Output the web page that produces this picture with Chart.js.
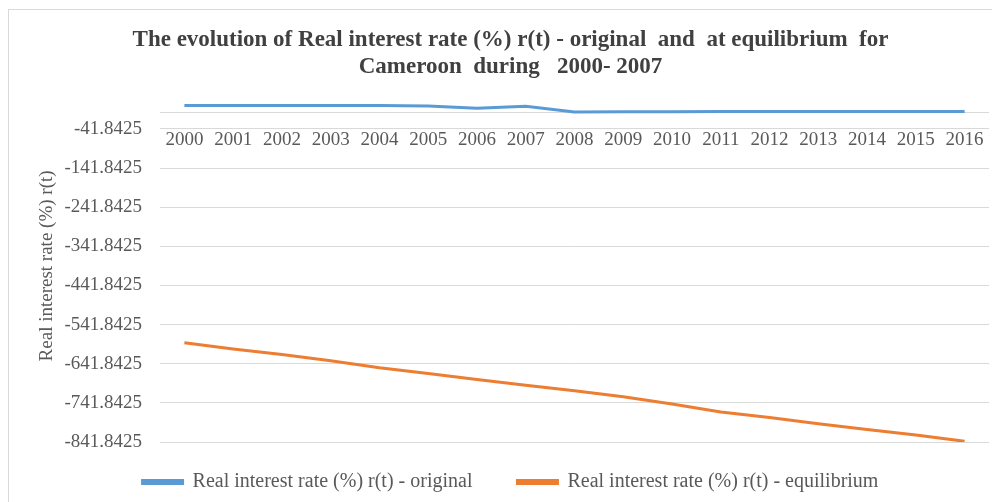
<!DOCTYPE html>
<html>
<head>
<meta charset="utf-8">
<script src="https://cdn.jsdelivr.net/npm/chart.js@4.4.1/dist/chart.umd.min.js"></script>
<style>
  html, body { margin: 0; padding: 0; background: #ffffff; }
  #wrap { width: 992px; height: 502px; position: relative; }
</style>
</head>
<body>
<div id="wrap"><canvas id="c" width="992" height="502"></canvas></div>
<script>
const years = ['2000','2001','2002','2003','2004','2005','2006','2007','2008','2009','2010','2011','2012','2013','2014','2015','2016'];
const originalRate = [18, 18, 18, 18, 18, 17, 11, 16, 1.5, 2, 2, 2.5, 2.5, 2.5, 2.5, 2.5, 2.5];
const equilibriumRate = [-588, -604, -618, -634, -652, -667, -682, -697, -711, -726, -745, -765, -779, -795, -810, -824, -840];
const yTickValues = [0, -41.8425, -141.8425, -241.8425, -341.8425, -441.8425, -541.8425, -641.8425, -741.8425, -841.8425];
const yTickLabels = ['', '-41.8425', '-141.8425', '-241.8425', '-341.8425', '-441.8425', '-541.8425', '-641.8425', '-741.8425', '-841.8425'];
const yMin = -841.8425;
const yMax = 58.1575;
const seriesNames = ['Real interest rate (%) r(t) - original', 'Real interest rate (%) r(t) - equilibrium'];
const titleLines = ['The evolution of Real interest rate (%) r(t) - original  and  at equilibrium  for', 'Cameroon  during   2000- 2007'];
const yTitle = 'Real interest rate (%) r(t)';

const SERIF = '"Liberation Serif", "Times New Roman", serif';
const TEXT = '#595959';

const borderPlugin = {
  id: 'frame',
  beforeDraw(chart) {
    const ctx = chart.ctx;
    ctx.save();
    ctx.fillStyle = '#ffffff';
    ctx.fillRect(0, 0, chart.width, chart.height);
    ctx.strokeStyle = '#d9d9d9';
    ctx.lineWidth = 1;
    ctx.strokeRect(8.5, 9.5, chart.width + 10, chart.height + 10);
    ctx.restore();
  }
};

new Chart(document.getElementById('c'), {
  type: 'line',
  data: {
    labels: years,
    datasets: [
      {
        label: seriesNames[0],
        data: originalRate,
        borderColor: '#5B9BD5',
        backgroundColor: '#5B9BD5',
        borderWidth: 3,
        pointRadius: 0,
        tension: 0,
        fill: false
      },
      {
        label: seriesNames[1],
        data: equilibriumRate,
        borderColor: '#ED7D31',
        backgroundColor: '#ED7D31',
        borderWidth: 3,
        pointRadius: 0,
        tension: 0,
        fill: false
      }
    ]
  },
  options: {
    responsive: false,
    animation: false,
    layout: { padding: { left: 32, right: 3, top: 10, bottom: 0 } },
    plugins: {
      title: {
        display: true,
        text: titleLines,
        color: '#404040',
        font: { family: SERIF, size: 23, weight: 'bold', lineHeight: 1.17 },
        padding: { top: 17, bottom: 9 }
      },
      legend: {
        position: 'bottom',
        labels: {
          boxWidth: 40,
          boxHeight: 3,
          color: TEXT,
          font: { family: SERIF, size: 20 },
          padding: 30,
          generateLabels(chart) {
            const items = Chart.defaults.plugins.legend.labels.generateLabels(chart);
            items.forEach((it, i) => {
              if (i < items.length - 1) it.text = it.text + '\u00A0\u00A0\u00A0';
            });
            return items;
          }
        }
      },
      tooltip: { enabled: false }
    },
    scales: {
      x: {
        position: { y: -41.8425 },
        offset: true,
        grid: { display: false, drawTicks: false },
        border: { display: false },
        ticks: {
          color: TEXT,
          font: { family: SERIF, size: 19 },
          padding: 0,
          maxRotation: 0,
          autoSkip: false
        }
      },
      y: {
        min: yMin,
        max: yMax,
        afterBuildTicks(scale) {
          scale.ticks = yTickValues.map(v => ({ value: v }));
        },
        afterFit(scale) {
          scale.width = 128;
        },
        grid: {
          color: '#d9d9d9',
          drawTicks: false,
          lineWidth: 1
        },
        border: { display: false },
        ticks: {
          color: TEXT,
          font: { family: SERIF, size: 19 },
          padding: 18,
          callback(value, index) { return yTickLabels[index]; }
        },
        title: {
          display: true,
          text: yTitle,
          color: TEXT,
          font: { family: SERIF, size: 19 },
          padding: { top: 4, bottom: 4 }
        }
      }
    }
  },
  plugins: [borderPlugin]
});
</script>
</body>
</html>
